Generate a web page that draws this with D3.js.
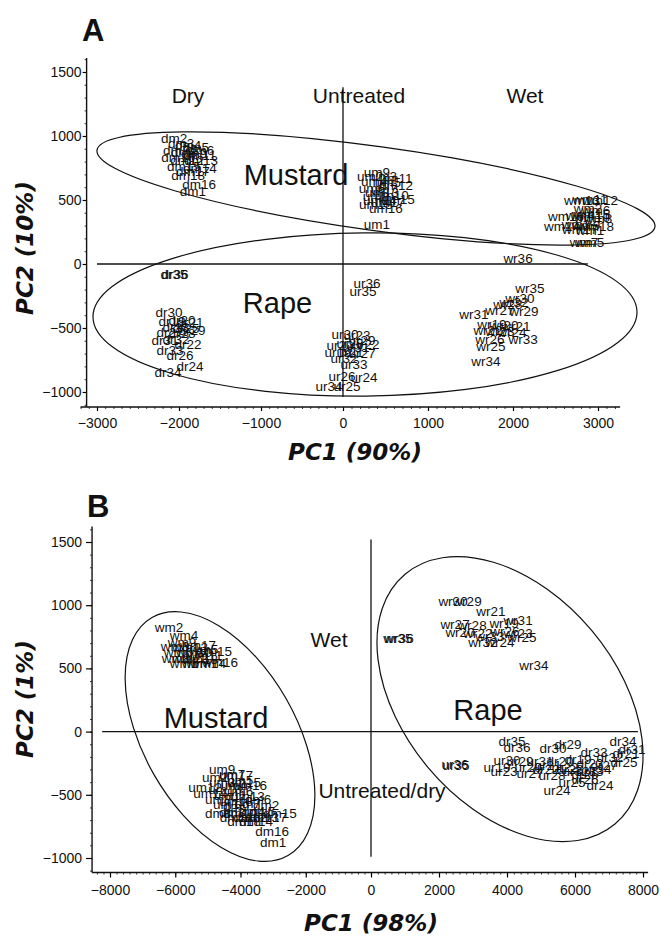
<!DOCTYPE html>
<html>
<head>
<meta charset="utf-8">
<script src="https://cdn.jsdelivr.net/npm/d3@7"></script>
<style>
  body { margin: 0; background: #fff; }
  text { fill: #111; }
</style>
</head>
<body>
<div id="chart"></div>
<script>
// ---- panel A data (PC1, PC2) ----
const aDm = [["dm1",-1830,570],["dm2",-2060,985],["dm3",-1975,945],["dm4",-1890,930],["dm5",-1795,915],["dm6",-1730,890],
  ["dm7",-2035,890],["dm8",-1940,875],["dm9",-1815,865],["dm10",-2010,835],["dm11",-1745,850],["dm12",-1900,810],
  ["dm13",-1730,810],["dm14",-1745,750],["dm15",-1940,765],["dm16",-1755,625],["dm17",-1830,725],["dm18",-1890,695]];
const aUm = [["um1",400,313],["um2",318,688],["um3",482,688],["um4",365,648],["um5",529,641],["um6",341,594],
  ["um7",482,586],["um8",388,531],["um9",400,719],["um10",576,539],["um11",624,672],["um12",624,617],
  ["um13",459,563],["um14",435,500],["um15",647,508],["um16",506,438],["um17",529,484],["um18",388,469]];
const aWm = [["wm1",2906,266],["wm2",2882,438],["wm3",2741,313],["wm4",2788,383],["wm5",2906,172],["wm6",2976,422],
  ["wm7",2835,172],["wm8",3000,359],["wm9",2859,305],["wm10",2929,367],["wm11",2906,508],["wm12",3024,500],
  ["wm13",2812,500],["wm14",2576,297],["wm15",2929,391],["wm16",2624,375],["wm17",2788,273],["wm18",2976,297]];
const aDr = [["dr19",-2085,-445],["dr20",-1963,-438],["dr21",-1866,-453],["dr22",-1890,-625],["dr23",-2037,-492],["dr24",-1866,-797],
  ["dr25",-1915,-500],["dr26",-1988,-711],["dr27",-2110,-531],["dr28",-1963,-539],["dr29",-1841,-516],["dr30",-2122,-375],
  ["dr31",-2171,-594],["dr32",-2037,-586],["dr33",-2110,-672],["dr34",-2134,-844],["dr35",-2061,-78],["dr36",-2049,-78]];
const aUr = [["ur19",-61,-688],["ur20",-37,-633],["ur21",82,-688],["ur22",271,-625],["ur23",165,-555],["ur24",247,-883],
  ["ur25",47,-953],["ur26",-12,-875],["ur27",224,-695],["ur28",82,-617],["ur29",224,-594],["ur30",24,-547],
  ["ur31",153,-648],["ur32",12,-734],["ur33",129,-781],["ur34",-171,-953],["ur35",235,-211],["ur36",282,-148]];
const aWr = [["wr19",1753,-469],["wr20",1894,-477],["wr21",2035,-484],["wr22",1706,-516],["wr23",1847,-523],["wr24",1988,-531],
  ["wr25",1741,-641],["wr26",1729,-586],["wr27",1847,-359],["wr28",1941,-313],["wr29",2129,-367],["wr30",2082,-266],
  ["wr31",1541,-391],["wr32",2012,-297],["wr33",2118,-586],["wr34",1682,-758],["wr35",2200,-188],["wr36",2059,47]];

// ---- panel B data (PC1, PC2) ----
const bWm = [["wm1",-5731,538],["wm2",-6191,823],["wm3",-6007,672],["wm4",-5731,759],["wm5",-5118,649],["wm6",-5915,625],
  ["wm7",-5363,538],["wm8",-5976,578],["wm9",-5792,704],["wm10",-5424,625],["wm11",-5087,601],["wm12",-5547,578],
  ["wm13",-5547,665],["wm14",-4995,538],["wm15",-4811,633],["wm16",-4628,546],["wm17",-5302,680],["wm18",-5241,570]];
const bUm = [["um1",-4444,-578],["um2",-4781,-364],["um3",-4566,-403],["um4",-4199,-427],["um5",-4015,-388],["um6",-4015,-475],
  ["um7",-4260,-340],["um8",-4689,-538],["um9",-4566,-301],["um10",-4474,-459],["um11",-4321,-506],["um12",-5087,-443],
  ["um13",-3770,-514],["um14",-4934,-491],["um15",-3892,-403],["um16",-3708,-427],["um17",-4137,-348],["um18",-4137,-554]];
const bDm = [["dm1",-3003,-878],["dm2",-3218,-585],["dm3",-4260,-641],["dm4",-3647,-633],["dm5",-3340,-633],["dm6",-3463,-538],
  ["dm7",-3770,-570],["dm8",-4689,-649],["dm9",-4137,-593],["dm10",-4015,-649],["dm11",-4137,-680],["dm12",-3708,-680],
  ["dm13",-3340,-680],["dm14",-3524,-712],["dm15",-2789,-649],["dm16",-3034,-791],["dm17",-3095,-680],["dm18",-3892,-712]];
const bWr = [["wr19",3912,854],["wr20",2618,783],["wr21",3529,949],["wr22",3147,775],["wr23",4324,775],["wr24",3794,704],
  ["wr25",4441,744],["wr26",3941,791],["wr27",2471,847],["wr28",2971,839],["wr29",2824,1028],["wr30",2412,1028],
  ["wr31",4324,878],["wr32",3294,704],["wr33",3500,752],["wr34",4794,522],["wr35",794,736],["wr36",824,736]];
const bDr = [["dr19",6088,-222],["dr20",5559,-237],["dr21",7500,-174],["dr22",5147,-301],["dr23",6441,-253],["dr24",6735,-427],
  ["dr25",7441,-245],["dr26",6294,-340],["dr27",6853,-269],["dr28",5853,-301],["dr29",5794,-103],["dr30",5353,-134],
  ["dr31",7676,-142],["dr32",7029,-206],["dr33",6559,-166],["dr34",7412,-79],["dr35",4147,-79],["dr36",4294,-127]];
const bUr = [["ur19",3706,-285],["ur20",4618,-285],["ur21",5206,-269],["ur22",5706,-285],["ur23",3912,-316],["ur24",5471,-467],
  ["ur25",5912,-403],["ur26",6294,-380],["ur27",4676,-332],["ur28",5324,-348],["ur29",4382,-237],["ur30",4000,-229],
  ["ur31",4971,-237],["ur32",6029,-316],["ur33",6441,-316],["ur34",6676,-301],["ur35",2500,-269],["ur36",2471,-261]];

// ---- ticks ----
const aXTicks = [-3000, -2000, -1000, 0, 1000, 2000, 3000];
const aYTicks = [-1000, -500, 0, 500, 1000, 1500];
const bXTicks = [-8000, -6000, -4000, -2000, 0, 2000, 4000, 6000, 8000];
const bYTicks = [-1000, -500, 0, 500, 1000, 1500];

// ---- annotations: [text, PC1, PC2] ----
const aTreatNames = [["Dry", -1890, 1258], ["Untreated", 188, 1258], ["Wet", 2141, 1258]];
const aSpeciesNames = [["Mustard", -573, 617], ["Rape", -799, -383]];
const bTreatNames = [["Wet", -1287, 672], ["Untreated/dry", 324, -522]];
const bSpeciesNames = [["Mustard", -4750, 32], ["Rape", 3441, 95]];

// ellipses: major axis ends (PC1, PC2) and minor/major ratio
const aEllipses = [
  { x1: -3000, y1: 890, x2: 3670, y2: 290, ratio: 0.149 },
  { x1: -3049, y1: -414, x2: 3459, y2: -375, ratio: 0.30 }
];
const bEllipses = [
  { x1: -6712, y1: 902, x2: -2544, y2: -981, ratio: 0.556 },
  { x1: 1000, y1: 1245, x2: 7176, y2: -731, ratio: 0.654 }
];

// 參考線 extents
const aZeroH = [-3000, 2880], aZeroV = [-1040, 1380];
const bZeroH = [-8240, 7850], bZeroV = [-990, 1520];

const svg = d3.select("#chart").append("svg")
  .attr("width", 661).attr("height", 943)
  .style("font-family", "'Liberation Sans', Arial, sans-serif");

const panels = [
  {
    letter: "A", letterPos: [82, 41],
    x: d3.scaleLinear().domain([-3000, 0, 3000]).range([97, 343, 598]),
    y: d3.scaleLinear().domain([-1000, 1500]).range([392, 72]),
    xExt: [-3200, 3260], yExt: [-1117, 1609],
    xTicks: aXTicks, yTicks: aYTicks, xMinor: 100, yMinor: 100,
    xTick: [4, 7], yTick: [4, 1],
    groups: [aDm, aUm, aWm, aDr, aUr, aWr],
    treat: aTreatNames, species: aSpeciesNames, ellipses: aEllipses,
    zeroH: aZeroH, zeroV: aZeroV,
    xTitle: "PC1 (90%)", xTitlePos: [355, 460],
    yTitle: "PC2 (10%)", yTitlePos: [33, 248]
  },
  {
    letter: "B", letterPos: [87, 517],
    x: d3.scaleLinear().domain([-8000, 0, 8000]).range([110, 371, 643]),
    y: d3.scaleLinear().domain([-1000, 1500]).range([858, 542]),
    xExt: [-8550, 8150], yExt: [-1115, 1622],
    xTicks: bXTicks, yTicks: bYTicks, xMinor: 200, yMinor: 100,
    xTick: [5, 8], yTick: [6, 4],
    groups: [bWm, bUm, bDm, bWr, bDr, bUr],
    treat: bTreatNames, species: bSpeciesNames, ellipses: bEllipses,
    zeroH: bZeroH, zeroV: bZeroV,
    xTitle: "PC1 (98%)", xTitlePos: [371, 931],
    yTitle: "PC2 (1%)", yTitlePos: [33, 699]
  }
];

panels.forEach(drawPanel);

function drawPanel(p) {
  const g = svg.append("g");
  const x = p.x, y = p.y;
  const x0 = x(p.xExt[0]), x1 = x(p.xExt[1]);
  const yAxisX = x(p.xExt[0]) + (p.letter === "A" ? 6 : 0);
  const xAxisY = y(p.yExt[0]);
  const fmt = d3.format("d");

  // 次刻度
  const minorX = d3.range(Math.ceil(p.xExt[0] / p.xMinor) * p.xMinor, p.xExt[1], p.xMinor);
  const minorY = d3.range(Math.ceil(p.yExt[0] / p.yMinor) * p.yMinor, p.yExt[1], p.yMinor);

  const xMinorAxis = g.append("g").attr("transform", `translate(0,${xAxisY})`)
    .call(d3.axisBottom(x).tickValues(minorX).tickSize(2).tickFormat(""));
  xMinorAxis.select(".domain").remove();
  xMinorAxis.selectAll("line").attr("stroke-width", 0.8);

  const yMinorAxis = g.append("g").attr("transform", `translate(${yAxisX},0)`)
    .call(d3.axisLeft(y).tickValues(minorY).tickSize(2).tickFormat(""));
  yMinorAxis.select(".domain").remove();
  yMinorAxis.selectAll("line").attr("stroke-width", 0.8);

  // 主刻度
  const xAxis = g.append("g").attr("transform", `translate(0,${xAxisY})`)
    .call(d3.axisBottom(x).tickValues(p.xTicks).tickFormat(fmt).tickSize(p.xTick[0]).tickPadding(p.xTick[1]));
  xAxis.select(".domain").remove();
  xAxis.selectAll("line").attr("stroke-width", 1.2);
  xAxis.selectAll("text").attr("font-size", 14).attr("font-family", "'Liberation Sans', Arial, sans-serif").attr("fill", "#111");

  const yAxis = g.append("g").attr("transform", `translate(${yAxisX},0)`)
    .call(d3.axisLeft(y).tickValues(p.yTicks).tickFormat(fmt).tickSize(p.yTick[0]).tickPadding(p.yTick[1]));
  yAxis.select(".domain").remove();
  yAxis.selectAll("line").attr("stroke-width", 1.2);
  yAxis.selectAll("text").attr("font-size", 14).attr("font-family", "'Liberation Sans', Arial, sans-serif").attr("fill", "#111");

  // 軸線
  g.append("line").attr("x1", x0).attr("x2", x1).attr("y1", xAxisY).attr("y2", xAxisY)
    .attr("stroke", "#111").attr("stroke-width", 1.4);
  g.append("line").attr("x1", yAxisX).attr("x2", yAxisX).attr("y1", y(p.yExt[1])).attr("y2", xAxisY)
    .attr("stroke", "#111").attr("stroke-width", 1.4);

  // 零線
  g.append("line").attr("x1", x(p.zeroH[0])).attr("x2", x(p.zeroH[1])).attr("y1", y(0)).attr("y2", y(0))
    .attr("stroke", "#111").attr("stroke-width", 1.3);
  g.append("line").attr("x1", x(0)).attr("x2", x(0)).attr("y1", y(p.zeroV[1])).attr("y2", y(p.zeroV[0]))
    .attr("stroke", "#111").attr("stroke-width", 1.3);

  // 橢圓
  p.ellipses.forEach(e => {
    const ax = x(e.x1), ay = y(e.y1), bx = x(e.x2), by = y(e.y2);
    const cx = (ax + bx) / 2, cy = (ay + by) / 2;
    const a = Math.hypot(bx - ax, by - ay) / 2;
    const ang = Math.atan2(by - ay, bx - ax) * 180 / Math.PI;
    g.append("ellipse")
      .attr("cx", cx).attr("cy", cy).attr("rx", a).attr("ry", a * e.ratio)
      .attr("transform", `rotate(${ang},${cx},${cy})`)
      .attr("fill", "none").attr("stroke", "#111").attr("stroke-width", 1.2);
  });

  // 樣本標籤
  p.groups.forEach(grp => {
    g.append("g").selectAll("text").data(grp).join("text")
      .attr("x", d => x(d[1]))
      .attr("y", d => y(d[2]))
      .attr("dy", "0.35em")
      .attr("text-anchor", "middle")
      .attr("font-size", 13.5)
      .text(d => d[0]);
  });

  g.selectAll(null).data(p.treat).join("text")
    .attr("x", d => x(d[1])).attr("y", d => y(d[2]))
    .attr("text-anchor", "middle").attr("font-size", 21)
    .text(d => d[0]);

  g.selectAll(null).data(p.species).join("text")
    .attr("x", d => x(d[1])).attr("y", d => y(d[2]))
    .attr("text-anchor", "middle").attr("font-size", 29)
    .text(d => d[0]);

  // 標題
  g.append("text").attr("x", p.letterPos[0]).attr("y", p.letterPos[1])
    .attr("font-size", 31).attr("font-weight", "bold").text(p.letter);

  g.append("text").attr("x", p.xTitlePos[0]).attr("y", p.xTitlePos[1])
    .attr("text-anchor", "middle").attr("font-size", 23)
    .attr("font-family", "'DejaVu Sans', sans-serif").attr("font-weight", "bold").attr("font-style", "italic")
    .text(p.xTitle);

  g.append("text")
    .attr("transform", `translate(${p.yTitlePos[0]},${p.yTitlePos[1]}) rotate(-90)`)
    .attr("text-anchor", "middle").attr("font-size", 23)
    .attr("font-family", "'DejaVu Sans', sans-serif").attr("font-weight", "bold").attr("font-style", "italic")
    .text(p.yTitle);
}
</script>
</body>
</html>
